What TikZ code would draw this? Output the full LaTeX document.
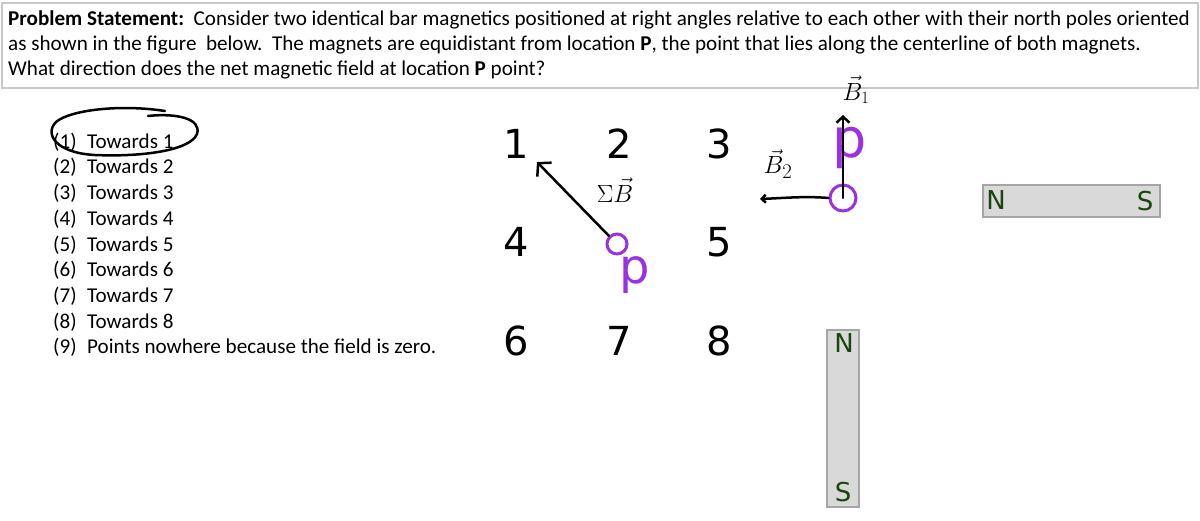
\documentclass[tikz,border=0pt]{standalone}
\usepackage{fontspec}
\setmainfont{Carlito}
\newfontfamily\djv{DejaVu Sans}
\usetikzlibrary{arrows.meta}
\definecolor{ppl}{RGB}{155,50,225}
\definecolor{magfill}{RGB}{217,217,217}
\definecolor{magline}{RGB}{165,165,165}
\definecolor{polecol}{RGB}{25,70,15}
\definecolor{boxline}{RGB}{200,200,200}
\tikzset{
 stmt/.style={anchor=base west, inner sep=0, font=\fontsize{21.1}{25}\selectfont},
 opt/.style={anchor=base west, inner sep=0, font=\fontsize{21.1}{25}\selectfont},
 digit/.style={inner sep=0, font=\djv\fontsize{40}{44}\selectfont},
 ptcirc/.style={circle, draw=ppl, line width=3pt, inner sep=0},
 pletter/.style={inner sep=0, text=ppl},
 magnet/.style={draw=magline, fill=magfill, line width=1.2pt, inner sep=0},
 pole/.style={inner sep=0, text=polecol, font=\djv\fontsize{26}{28}\selectfont},
 hand/.style={black, line width=2.5pt, line cap=round, line join=round},
 handlbl/.style={inner sep=0},
}
\begin{document}
\begin{tikzpicture}[x=1pt,y=-1pt]
\useasboundingbox (0,0) rectangle (1200,520);
\fill[white] (0,0) rectangle (1200,520);
% statement box
\node[draw=boxline, line width=2pt, minimum width=1196pt, minimum height=85pt, inner sep=0] (box) at (600,45) {};
\node[stmt] (s1) at (8,25.5) {\textbf{Problem Statement:}\ \ Consider two identical bar magnetics positioned at right angles relative to each other with their north poles oriented};
\node[stmt] (s2) at (8,50.5) {as shown in the figure\ \ below.\ \ The magnets are equidistant from location \textbf{P}, the point that lies along the centerline of both magnets.};
\node[stmt] (s3) at (8,75.5) {What direction does the net magnetic field at location \textbf{P} point?};
% options
\foreach \i/\t [count=\k from 0] in {1/Towards 1,2/Towards 2,3/Towards 3,4/Towards 4,5/Towards 5,6/Towards 6,7/Towards 7,8/Towards 8,9/Points nowhere because the field is zero.}{
  \node[opt] (l\i) at (53,148.2+25.7*\k) {(\i)};
  \node[opt] (t\i) at (87,148.2+25.7*\k) {\t};
}
% hand-drawn ellipse round option 1
\draw[hand] (165,111) .. controls (120,104) and (70,110) .. (56,122)
  .. controls (44,134) and (56,153) .. (95,155)
  .. controls (140,157) and (190,151) .. (197,134)
  .. controls (202,118) and (175,113) .. (148,116);
% grid of numbers
\node[digit] (d1) at (516,144) {1};
\node[digit] (d2) at (619,144) {2};
\node[digit] (d3) at (719,144) {3};
\node[digit] (d4) at (516,242) {4};
\node[digit] (d5) at (719,242) {5};
\node[digit] (d6) at (516,341) {6};
\node[digit] (d7) at (619,341) {7};
\node[digit] (d8) at (719,341) {8};
% point P (grid)
\node[ptcirc, minimum size=20pt] (P1) at (617,244) {};
\node[pletter, font=\djv\fontsize{48}{50}\selectfont] (pl1) at (635,275) {p};
% point P (vectors)
\node[pletter, font=\djv\fontsize{54}{56}\selectfont] (pl2) at (850,148) {p};
\node[ptcirc, minimum size=26pt] (P2) at (843,198) {};
% magnets
\node[magnet, minimum width=177pt, minimum height=32pt] (mh) at (1071.5,201) {};
\node[pole] (mhN) at (996,200) {N};
\node[pole] (mhS) at (1145,201) {S};
\node[magnet, minimum width=32pt, minimum height=177pt] (mv) at (843,418.5) {};
\node[pole] (mvN) at (844,343) {N};
\node[pole] (mvS) at (843,492) {S};
% hand-drawn vectors
\coordinate (tip1) at (537,162);
\coordinate (tip2) at (843,115);
\coordinate (tip3) at (760,199);
\draw[hand, -{Straight Barb[length=9pt,width=20pt]}] (P1.135) -- (tip1);
\draw[hand, -{Straight Barb[length=6pt,width=13pt]}] (P2.center) -- (tip2);
\draw[hand, -{Straight Barb[length=4pt,width=8pt]}] (P2.west) .. controls (805,196) and (785,198) .. (tip3);
\node[handlbl, font=\fontsize{28}{30}\selectfont] (sb) at (615,190) {$\Sigma\vec{B}$};
\node[handlbl, font=\fontsize{32}{34}\selectfont] (b2l) at (778,164) {$\vec{B}_2$};
\node[handlbl, font=\fontsize{25}{27}\selectfont] (b1l) at (856,90) {$\vec{B}_1$};
\end{tikzpicture}
\end{document}
